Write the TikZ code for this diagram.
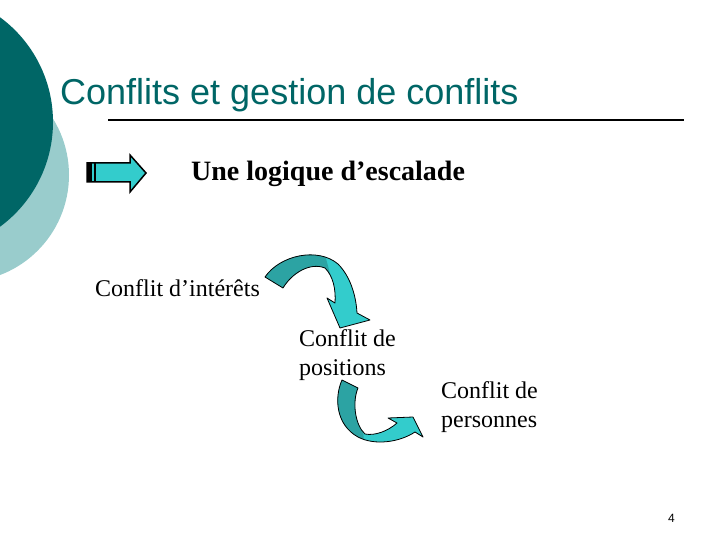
\documentclass[tikz,border=0pt]{standalone}
\usepackage{fontspec}
\setmainfont{Liberation Serif}[Ligatures=NoCommon]
\newfontfamily\titlefont{Liberation Sans}[Ligatures=NoCommon]
\definecolor{darkteal}{HTML}{006666}
\definecolor{lightteal}{HTML}{99CCCC}
\definecolor{arrcyan}{HTML}{33CCCC}
\definecolor{arrdark}{HTML}{2CA3A3}
\tikzset{
  txt/.style={inner sep=0pt, anchor=base west, font=\fontsize{24}{29}\selectfont, align=left},
  ribbon/.style={draw=black, line width=0.8pt, line join=round},
}
\begin{document}
\begin{tikzpicture}[x=1pt,y=-1pt]
\useasboundingbox (0,0) rectangle (720,540);
\clip (0,0) rectangle (720,540);
% background circles
\fill[lightteal] (-38,175) circle[radius=107pt];
\fill[darkteal] (-77,122) circle[radius=130pt];
% title
\node[inner sep=0pt, anchor=base west, text=darkteal, font=\titlefont\fontsize{36}{43}\selectfont] (title) at (60,105) {Conflits et gestion de conflits};
\draw[line width=2pt] (108,120) -- (684,120);
% block arrow
\filldraw[fill=arrcyan, draw=black, line width=1.5pt, line join=miter]
  (87,163) -- (130,163) -- (130,155) -- (146,173) -- (130,192) -- (130,182) -- (87,182) -- cycle;
\fill[black] (87,163) rectangle (91.5,182);
\fill[black] (93.5,163) rectangle (95.5,182);
\node[inner sep=0pt, anchor=base west, font=\bfseries\fontsize{28}{34}\selectfont] (sub) at (191,181) {Une logique d’escalade};
% texts
\node[txt] (t1) at (95,296) {Conflit d’intérêts};
\node[txt] (t2) at (299,375) {Conflit de\\positions};
\node[txt] (t3) at (441,427) {Conflit de\\personnes};
\node[inner sep=0pt, anchor=base west, font=\titlefont\fontsize{12}{14}\selectfont] (num) at (668,522) {4};
% curved arrow 1
\def\arrowone{(265,277) .. controls (280,255) and (318,247) .. (338,264) .. controls (350,276) and (356,295) .. (357,313) -- (370,320) -- (340,328) -- (327,298) -- (335,303) .. controls (336,289) and (333,276) .. (325,268) .. controls (310,262) and (292,273) .. (283,288) -- cycle}
\fill[arrcyan] \arrowone;
\begin{scope}
  \clip (250,240) -- (321,240) -- (335,292) -- (250,292) -- cycle;
  \fill[arrdark] \arrowone;
\end{scope}
\draw[ribbon] \arrowone;
% curved arrow 2
\def\arrowtwo{(342,380) .. controls (334,398) and (336,425) .. (358,437) .. controls (375,446) and (400,442) .. (415,432) -- (423,437) -- (413,417) -- (388,418) -- (397,423) .. controls (388,431) and (375,436) .. (365,434) .. controls (355,425) and (352,402) .. (358,388) -- cycle}
\fill[arrcyan] \arrowtwo;
\begin{scope}
  \clip (320,370) -- (360,370) -- (364,445) -- (320,445) -- cycle;
  \fill[arrdark] \arrowtwo;
\end{scope}
\draw[ribbon] \arrowtwo;
\end{tikzpicture}
\end{document}
